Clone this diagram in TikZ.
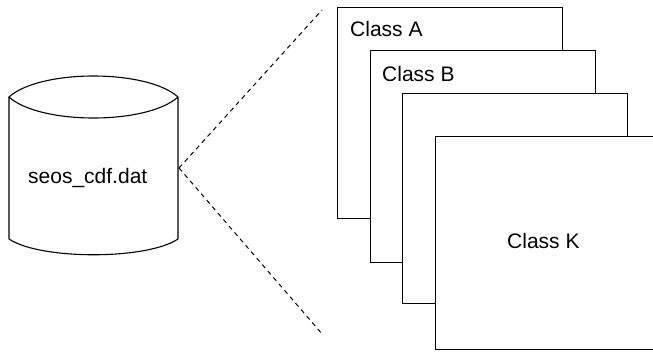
\documentclass[tikz,border=0pt]{standalone}
\usepackage{fontspec}
\setmainfont{Liberation Sans}
\begin{document}
\begin{tikzpicture}[x=1pt,y=-1pt,
  outline/.style={draw=black, line width=1.1pt},
  classbox/.style={outline, fill=white, rectangle, inner sep=0pt, anchor=north west, minimum width=225pt},
  lbl/.style={inner sep=0pt, anchor=base west, font=\fontsize{21}{25}\selectfont},
  link/.style={draw=black, line width=1pt, dash pattern=on 4.5pt off 4pt}]
\useasboundingbox (0,0) rectangle (653,351);
\clip (0,0) rectangle (653,351);
% database cylinder
\draw[outline, line join=miter] (9,97) -- (9,239)
  .. controls (40,260) and (147,260) .. (178,239) -- (178,97)
  .. controls (147,69) and (40,69) .. (9,97)
  .. controls (40,125) and (147,125) .. (178,97);
\node[lbl] (db) at (28,183) {seos\_cdf.dat};
\coordinate (apex) at (179,168);
\coordinate (topend) at (322,10);
\coordinate (botend) at (323,335);
\draw[link] (apex) -- (topend);
\draw[link] (apex) -- (botend);
% class boxes
\node[classbox, minimum height=211pt] (A) at (337,7) {};
\node[lbl] (la) at (350,36) {Class A};
\node[classbox, minimum height=212pt] (B) at (370,50) {};
\node[lbl] (lb) at (382,81) {Class B};
\node[classbox, minimum height=210pt] (C) at (402,93) {};
\node[classbox, minimum height=213pt] (K) at (435,136) {};
\node[lbl] (lk) at (507,248) {Class K};
\end{tikzpicture}
\end{document}
